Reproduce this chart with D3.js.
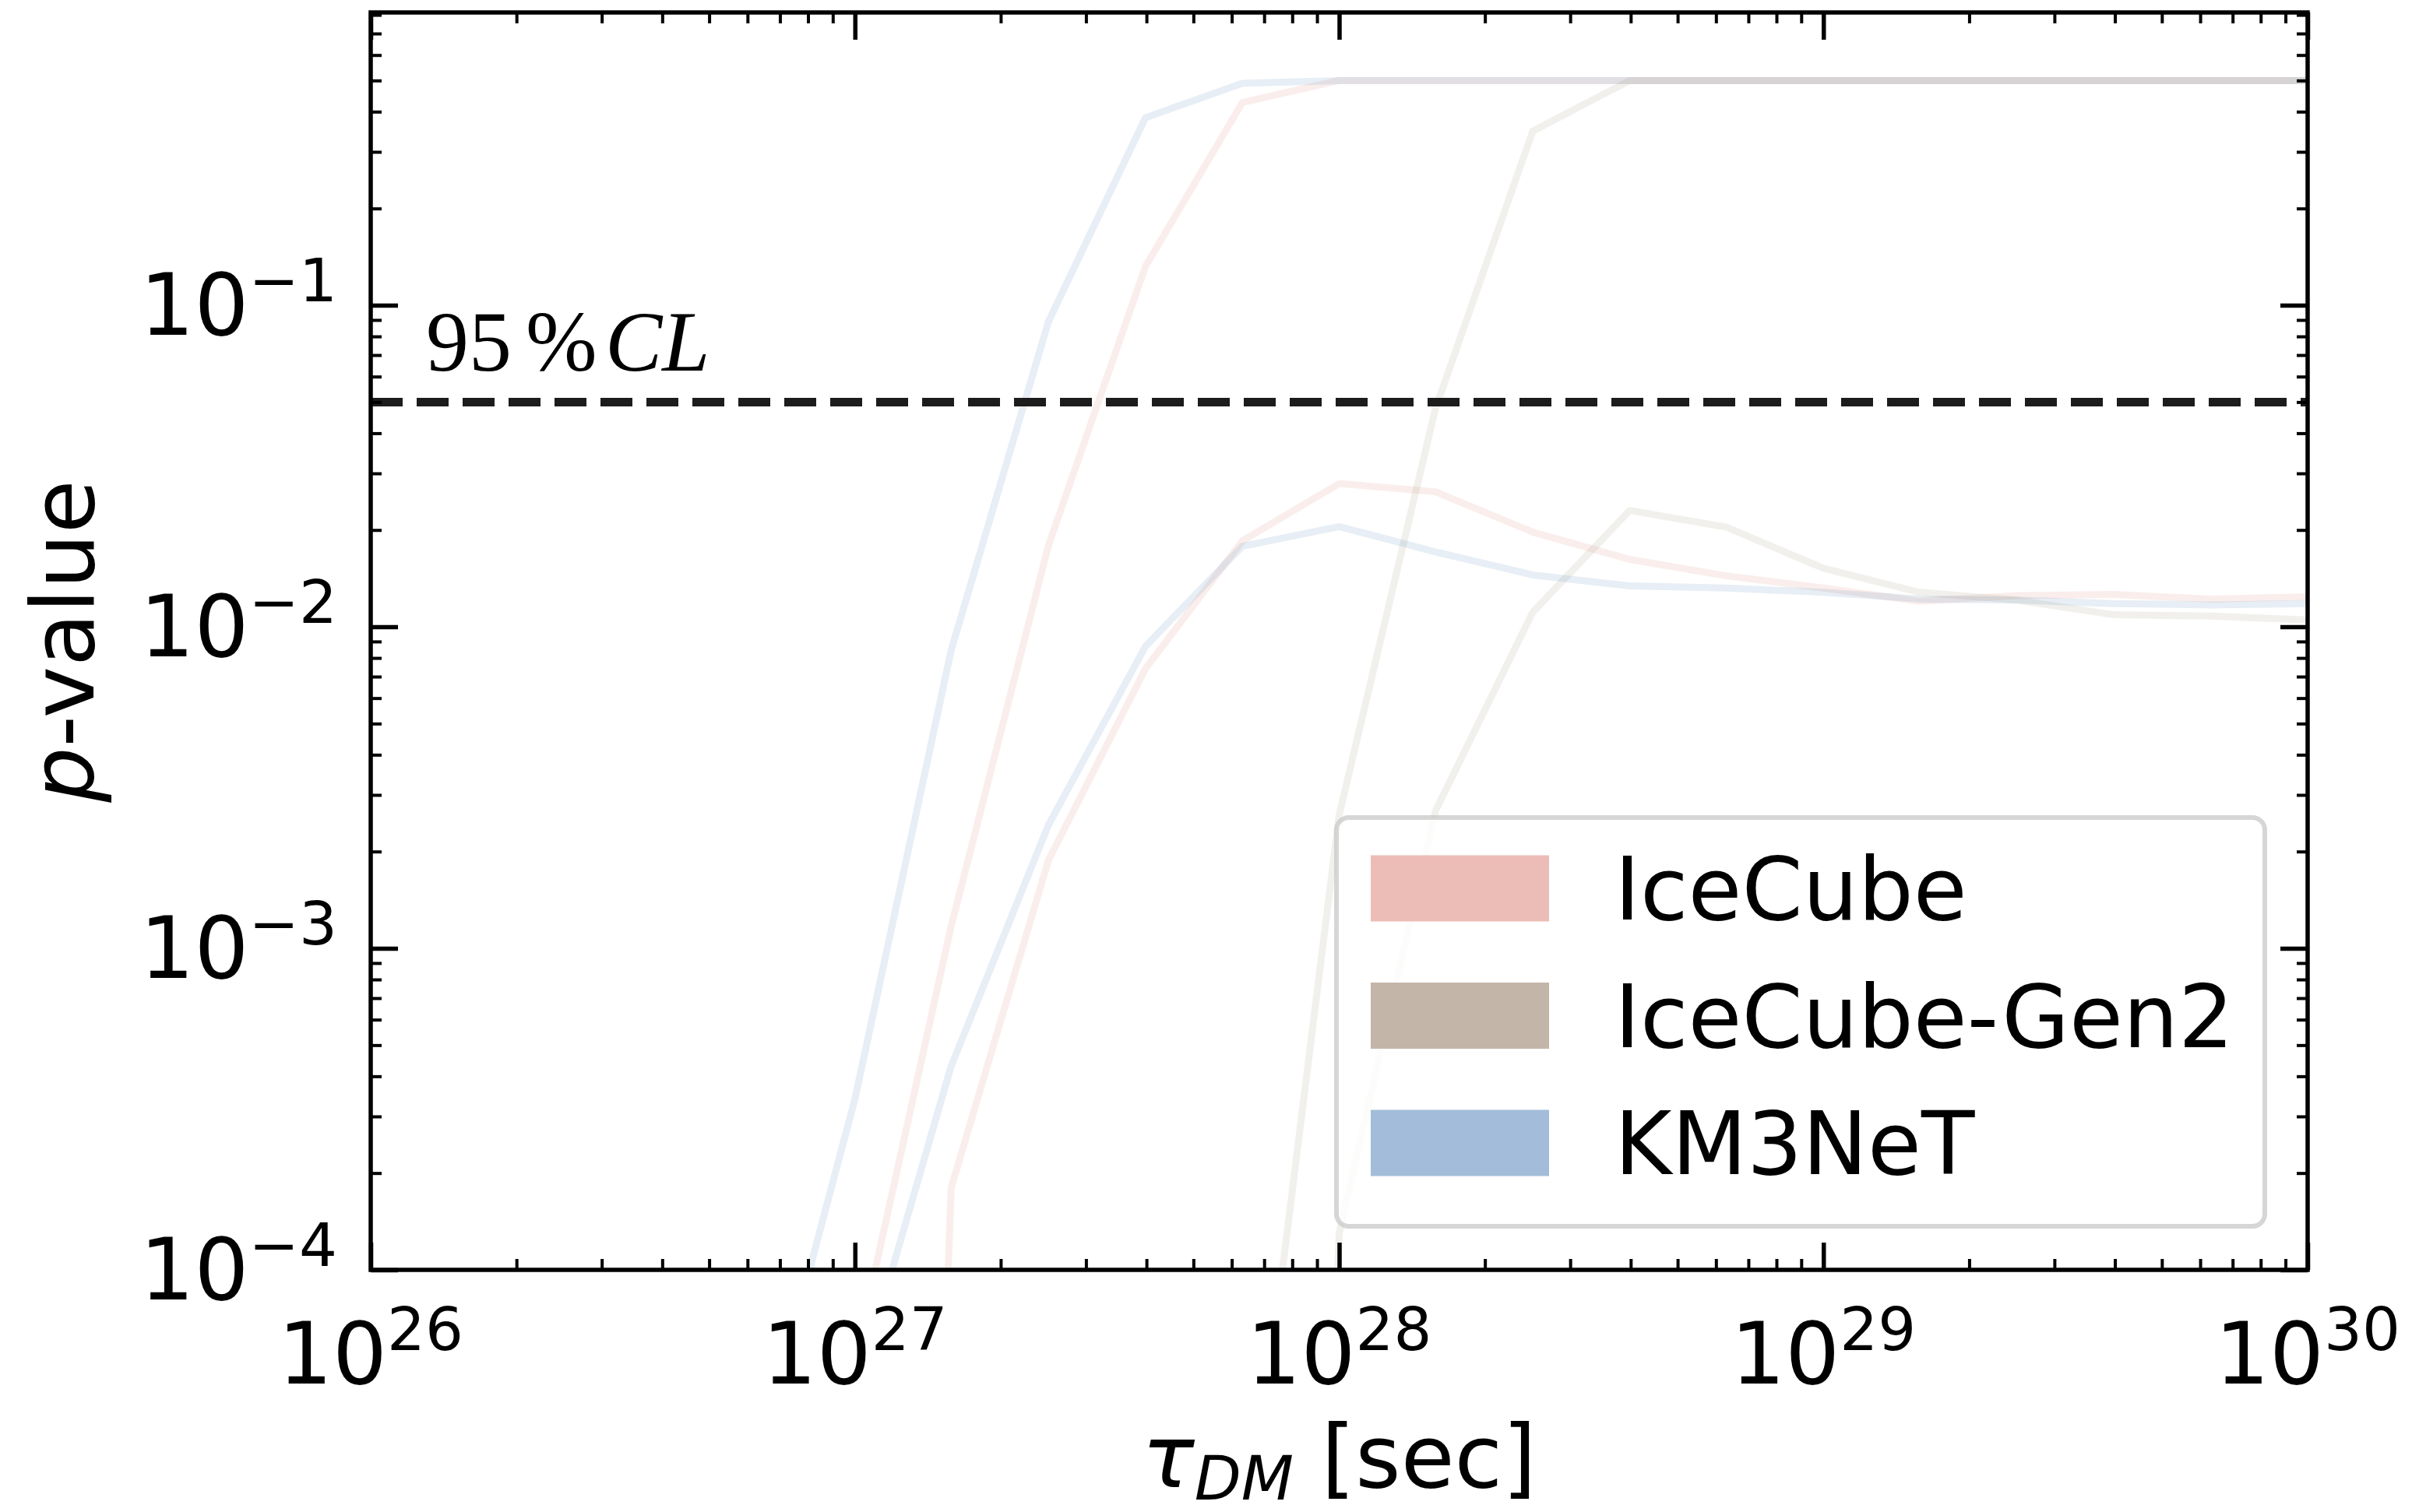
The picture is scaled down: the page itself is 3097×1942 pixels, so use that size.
<!DOCTYPE html>
<html>
<head>
<meta charset="utf-8">
<script src="https://cdn.jsdelivr.net/npm/d3@7"></script>
<style>
body { margin: 0; background: #fff; }
</style>
</head>
<body>
<div id="graphDiv"></div>
<script>
// DM lifetime grid (sec), 10^26.8 ... 10^30
var tau = [6.31e26, 1.00e27, 1.58e27, 2.51e27, 3.98e27, 6.31e27, 1.00e28, 1.58e28, 2.51e28,
           3.98e28, 6.31e28, 1.00e29, 1.58e29, 2.51e29, 3.98e29, 6.31e29, 1.00e30];

// p-values (null = below the plotted range)
var iceUpper  = [null, 5.2e-5, 1.17e-3, 0.0179, 0.132, 0.427, 0.5, 0.5, 0.5, 0.5, 0.5, 0.5, 0.5, 0.5, 0.5, 0.5, 0.5];
var iceLower  = [null, 1e-12, 1.8e-4, 1.88e-3, 7.4e-3, 0.0185, 0.0279, 0.0263, 0.0197, 0.0162, 0.0144, 0.0132, 0.0120, 0.0125, 0.0126, 0.0122, 0.0124];
var gen2Upper = [null, null, null, null, null, 1.0e-5, 2.6e-3, 0.0476, 0.348, 0.5, 0.5, 0.5, 0.5, 0.5, 0.5, 0.5, 0.5];
var gen2Lower = [null, null, null, null, null, 1e-12, 1.3e-4, 2.67e-3, 0.0111, 0.0230, 0.0204, 0.0152, 0.0128, 0.0121, 0.0109, 0.0108, 0.0105];
var km3Upper  = [2.5e-5, 3.4e-4, 8.45e-3, 0.089, 0.383, 0.49, 0.5, 0.5, 0.5, 0.5, 0.5, 0.5, 0.5, 0.5, 0.5, 0.5, 0.5];
var km3Lower  = [null, 4.0e-5, 4.3e-4, 2.42e-3, 8.7e-3, 0.0178, 0.0205, 0.0171, 0.0145, 0.0134, 0.0132, 0.0128, 0.0122, 0.0121, 0.0118, 0.0117, 0.0118];

var legendLabels = ["IceCube", "IceCube-Gen2", "KM3NeT"];
var xTickExp = [26, 27, 28, 29, 30];
var yTickExp = [-4, -3, -2, -1];
var clLevel = 0.05;

// set the dimensions and margins of the graph
var margin = {top: 16, right: 134, bottom: 311, left: 476},
width = 3097 - margin.left - margin.right,
height = 1942 - margin.top - margin.bottom;

var svg = d3.select("#graphDiv")
.append("svg")
.attr("width", width + margin.left + margin.right)
.attr("height", height + margin.top + margin.bottom)
.append("g")
.attr("transform", "translate(" + margin.left + "," + margin.top + ")");

var x = d3.scaleLog().domain([1e26, 1e30]).range([0, width]);
var y = d3.scaleLog().domain([1e-4, 0.814]).range([height, 0]);

var xMajor = xTickExp.map(function(e) { return Math.pow(10, e); });
var yMajor = yTickExp.map(function(e) { return Math.pow(10, e); });
var xMinor = [], yMinor = [];
for (var d = 26; d < 30; d++) for (var k = 2; k < 10; k++) xMinor.push(k * Math.pow(10, d));
for (var d = -4; d < 0; d++) for (var k = 2; k < 10; k++) {
  var v = k * Math.pow(10, d);
  if (v < 0.814) yMinor.push(v);
}

svg.append("clipPath").attr("id", "plotClip")
.append("rect").attr("width", width).attr("height", height);

// lines
var series = [
  {vals: iceUpper,  color: "#d97b6d"},
  {vals: iceLower,  color: "#d97b6d"},
  {vals: gen2Upper, color: "#938c6d"},
  {vals: gen2Lower, color: "#938c6d"},
  {vals: km3Upper,  color: "#4779b3"},
  {vals: km3Lower,  color: "#4779b3"}
];

var line = d3.line()
.defined(function(d) { return d.p != null; })
.x(function(d) { return x(d.t); })
.y(function(d) { return y(d.p); });

var lineG = svg.append("g").attr("clip-path", "url(#plotClip)");
series.forEach(function(s) {
  var pts = tau.map(function(t, i) { return {t: t, p: s.vals[i]}; });
  lineG.append("path")
  .datum(pts)
  .attr("d", line)
  .attr("fill", "none")
  .attr("stroke", s.color)
  .attr("stroke-opacity", 0.13)
  .attr("stroke-width", 9)
  .attr("stroke-linejoin", "round");
});

// 95% CL line
svg.append("line")
.attr("x1", 0).attr("x2", width)
.attr("y1", y(clLevel)).attr("y2", y(clLevel))
.attr("stroke", "#1c1c1c")
.attr("stroke-width", 11)
.attr("stroke-dasharray", "41,18");

var clText = svg.append("text")
.attr("y", y(clLevel) - 40)
.attr("font-family", "Liberation Serif, Times New Roman, serif")
.attr("font-size", 110)
.attr("fill", "#000");
clText.append("tspan").attr("x", 71).text("95");
clText.append("tspan").attr("x", 199).text("%");
clText.append("tspan").attr("x", 301).attr("font-style", "italic").text("CL");

// ticks, inward on all four sides
function ticks(axis, vals, len, w, tr) {
  var g = svg.append("g").attr("transform", tr)
  .call(axis.tickValues(vals).tickSize(-len).tickFormat(""));
  g.select(".domain").remove();
  g.selectAll("line").attr("stroke", "#000").attr("stroke-width", w);
}
ticks(d3.axisBottom(x), xMajor, 35, 5.5, "translate(0," + height + ")");
ticks(d3.axisBottom(x), xMinor, 14, 4, "translate(0," + height + ")");
ticks(d3.axisTop(x), xMajor, 35, 5.5, "translate(0,0)");
ticks(d3.axisTop(x), xMinor, 14, 4, "translate(0,0)");
ticks(d3.axisLeft(y), yMajor, 35, 5.5, "translate(0,0)");
ticks(d3.axisLeft(y), yMinor, 14, 4, "translate(0,0)");
ticks(d3.axisRight(y), yMajor, 35, 5.5, "translate(" + width + ",0)");
ticks(d3.axisRight(y), yMinor, 14, 4, "translate(" + width + ",0)");

// frame
svg.append("rect")
.attr("width", width).attr("height", height)
.attr("fill", "none").attr("stroke", "#000").attr("stroke-width", 5.5);

// tick labels
var font = "DejaVu Sans, sans-serif";
svg.selectAll(".xlab").data(xTickExp).enter().append("text")
.attr("class", "xlab")
.attr("x", function(e) { return x(Math.pow(10, e)); })
.attr("y", height + 146)
.attr("text-anchor", "middle")
.attr("font-family", font).attr("font-size", 110)
.each(function(e) {
  var t = d3.select(this);
  t.append("tspan").text("10");
  t.append("tspan").attr("dy", -43).attr("font-size", 77).text(e);
});

svg.selectAll(".ylab").data(yTickExp).enter().append("text")
.attr("class", "ylab")
.attr("x", -43)
.attr("y", function(e) { return y(Math.pow(10, e)) + 38; })
.attr("text-anchor", "end")
.attr("font-family", font).attr("font-size", 110)
.each(function(e) {
  var t = d3.select(this);
  t.append("tspan").text("10");
  t.append("tspan").attr("dy", -43).attr("font-size", 77).text("\u2212" + Math.abs(e));
});

// axis labels
var xl = svg.append("text")
.attr("x", width / 2).attr("y", 1894)
.attr("text-anchor", "middle")
.attr("font-family", font).attr("font-size", 112);
xl.append("tspan").attr("font-style", "italic").text("\u03c4");
xl.append("tspan").attr("font-style", "italic").attr("font-size", 78).attr("dy", 16).text("DM");
xl.append("tspan").attr("dy", -16).text(" [sec]");

var yl = svg.append("text")
.attr("transform", "translate(-356," + (height / 2) + ") rotate(-90)")
.attr("text-anchor", "middle")
.attr("font-family", font).attr("font-size", 112);
yl.append("tspan").attr("font-style", "italic").text("p");
yl.append("tspan").text("-value");

// legend
var legendColors = ["#ecbdb6", "#c4b5a9", "#a3bcd9"];
var leg = svg.append("g").attr("transform", "translate(1240,1034)");
leg.append("rect")
.attr("width", 1192).attr("height", 525).attr("rx", 16)
.attr("fill", "#fff").attr("fill-opacity", 0.8)
.attr("stroke", "#ccc").attr("stroke-opacity", 0.8).attr("stroke-width", 6);

leg.selectAll(".item").data(legendLabels).enter().append("g")
.attr("transform", function(d, i) { return "translate(0," + (91 + i * 163.5) + ")"; })
.each(function(d, i) {
  var g = d3.select(this);
  g.append("rect").attr("x", 44).attr("y", -42.5).attr("width", 229).attr("height", 85)
  .attr("fill", legendColors[i]);
  g.append("text").attr("x", 357).attr("y", 40)
  .attr("font-family", font).attr("font-size", 112).text(d);
});
</script>
</body>
</html>
